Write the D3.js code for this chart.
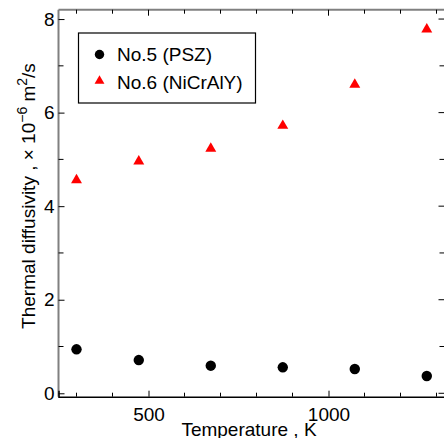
<!DOCTYPE html>
<html>
<head>
<meta charset="utf-8">
<script src="https://cdn.jsdelivr.net/npm/d3@7"></script>
<style>
  body { margin: 0; background: #fff; }
  text { font-family: "Liberation Sans", Arial, sans-serif; }
</style>
</head>
<body>
<svg width="444" height="438"></svg>
<script>
// temperatures, K
var temps = [300, 473, 673, 873, 1073, 1273];
// thermal diffusivity, x10^-6 m2/s
var psz = [0.94, 0.71, 0.59, 0.555, 0.52, 0.37];
var nicraly = [4.56, 4.96, 5.23, 5.72, 6.60, 7.78];
var seriesNames = ['No.5 (PSZ)', 'No.6 (NiCrAlY)'];
var xMajor = [500, 1000],
    xMinor = [300, 400, 600, 700, 800, 900, 1100, 1200, 1300];
var yMajor = [0, 2, 4, 6, 8],
    yMinor = [1, 3, 5, 7];

var pLeft = 58.5, pRight = 445.5, pTop = 9.7, pBottom = 396.7;

var svg = d3.select('svg');

var x = d3.scaleLinear().domain([250, 1325]).range([pLeft, pRight]);
var y = d3.scaleLinear().domain([-0.073, 8.2]).range([pBottom, pTop]);

// axes frame
svg.append('line').attr('x1', pLeft).attr('x2', pRight).attr('y1', pTop).attr('y2', pTop)
    .attr('stroke', '#808080').attr('stroke-width', 2);
svg.append('line').attr('x1', pLeft).attr('x2', pLeft).attr('y1', pTop).attr('y2', pBottom)
    .attr('stroke', '#808080').attr('stroke-width', 2);
svg.append('line').attr('x1', pRight).attr('x2', pRight).attr('y1', pTop).attr('y2', pBottom)
    .attr('stroke', '#808080').attr('stroke-width', 2);

// bottom axis
var xAxis = svg.append('g')
    .attr('transform', 'translate(0,' + pBottom + ')')
    .call(d3.axisBottom(x).tickValues(xMajor).tickFormat(d3.format('d')).tickSize(-6).tickPadding(11));
xAxis.select('.domain').attr('stroke', '#000').attr('stroke-width', 1.5);
xAxis.selectAll('text').attr('font-size', 19).attr('fill', '#000')
    .attr('font-family', '"Liberation Sans", Arial, sans-serif');
xAxis.selectAll('.tick line').attr('stroke', '#000');

function minorTicks(values, isX, pos, len) {
    svg.append('g').selectAll('line').data(values).enter().append('line')
        .attr('x1', function(d) { return isX ? x(d) : pos; })
        .attr('x2', function(d) { return isX ? x(d) : pos + len; })
        .attr('y1', function(d) { return isX ? pos : y(d); })
        .attr('y2', function(d) { return isX ? pos + len : y(d); })
        .attr('stroke', '#000').attr('stroke-width', 1);
}
minorTicks(xMinor, true, pBottom, -4);
minorTicks(xMajor, true, pTop, 6);
minorTicks(xMinor, true, pTop, 4);

// left axis
var yAxis = svg.append('g')
    .attr('transform', 'translate(' + pLeft + ',0)')
    .call(d3.axisLeft(y).tickValues(yMajor).tickSize(-6).tickPadding(4));
yAxis.select('.domain').remove();
yAxis.selectAll('text').attr('font-size', 19).attr('fill', '#000')
    .attr('font-family', '"Liberation Sans", Arial, sans-serif');
yAxis.selectAll('.tick line').attr('stroke', '#000');
minorTicks(yMinor, false, pLeft, 5);
minorTicks(yMajor, false, pRight - 7, 7);
minorTicks(yMinor, false, pRight - 6, 6);

// markers
svg.append('g').selectAll('circle').data(temps).enter().append('circle')
    .attr('cx', function(d) { return x(d); })
    .attr('cy', function(d, i) { return y(psz[i]); })
    .attr('r', 5.2)
    .attr('fill', '#000');

var tri = d3.symbol().type(d3.symbolTriangle).size(52);
svg.append('g').selectAll('path').data(temps).enter().append('path')
    .attr('transform', function(d, i) { return 'translate(' + x(d) + ',' + y(nicraly[i]) + ')'; })
    .attr('d', tri)
    .attr('fill', '#ff0000');

// legend
var legend = svg.append('g');
legend.append('rect').attr('x', 78.5).attr('y', 33).attr('width', 177).attr('height', 70)
    .attr('fill', '#fff').attr('stroke', '#000').attr('stroke-width', 1.2);
legend.append('circle').attr('cx', 99.5).attr('cy', 54.5).attr('r', 4.7).attr('fill', '#000');
legend.append('path').attr('transform', 'translate(99.5,81)')
    .attr('d', d3.symbol().type(d3.symbolTriangle).size(42)).attr('fill', '#ff0000');
legend.selectAll('text').data(seriesNames).enter().append('text')
    .attr('x', 117)
    .attr('y', function(d, i) { return 61.3 + i * 27.7; })
    .attr('font-size', 19)
    .text(function(d) { return d; });

// axis titles
svg.append('text')
    .attr('x', 249).attr('y', 435.7)
    .attr('text-anchor', 'middle').attr('font-size', 19)
    .text('Temperature , K');

var yl = svg.append('text')
    .attr('transform', 'translate(35,' + 196 + ') rotate(-90)')
    .attr('text-anchor', 'middle').attr('font-size', 19);
yl.append('tspan').text('Thermal diffusivity , \u00d7 10');
yl.append('tspan').attr('dy', -8).attr('font-size', 14).text('\u22126');
yl.append('tspan').attr('dy', 8).text(' m');
yl.append('tspan').attr('dy', -8).attr('font-size', 14).text('2');
yl.append('tspan').attr('dy', 8).text('/s');
</script>
</body>
</html>
